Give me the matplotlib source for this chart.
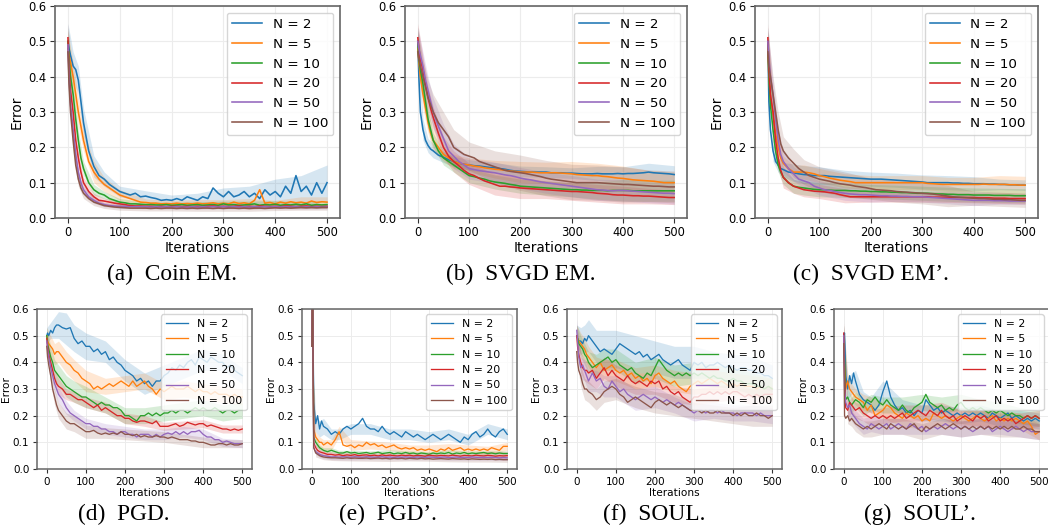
import matplotlib
matplotlib.use("Agg")
import matplotlib.pyplot as plt
import numpy as np

# ---------------- data ----------------
ITER = [0, 2, 5, 10, 15, 20, 25, 30] + list(range(40, 501, 10))
BAND_ITER = [0, 10, 20, 30, 50, 70, 100, 150, 200, 250, 300, 350, 400, 450, 500]
LABELS = ["N = 2", "N = 5", "N = 10", "N = 20", "N = 50", "N = 100"]
COLORS = ["#1f77b4", "#ff7f0e", "#2ca02c", "#d62728", "#9467bd", "#8c564b"]
CAPTIONS = ["(a)  Coin EM.", "(b)  SVGD EM.", "(c)  SVGD EM\u2019.",
            "(d)  PGD.", "(e)  PGD\u2019.", "(f)  SOUL.", "(g)  SOUL\u2019."]
XTICKS = [0, 100, 200, 300, 400, 500]
YTICKS = [0.0, 0.1, 0.2, 0.3, 0.4, 0.5, 0.6]

# (a) Coin EM
a_n2 = [0.50, 0.48, 0.46, 0.43, 0.42, 0.39, 0.33, 0.27,
        0.19, 0.146, 0.12, 0.11, 0.095, 0.085, 0.075, 0.07, 0.065, 0.07,
        0.06, 0.062, 0.058, 0.055, 0.05, 0.052, 0.05, 0.055, 0.05, 0.06,
        0.055, 0.05, 0.06, 0.055, 0.085, 0.07, 0.06, 0.075, 0.06, 0.065,
        0.075, 0.06, 0.07, 0.055, 0.08, 0.065, 0.075, 0.06, 0.09, 0.07,
        0.12, 0.075, 0.09, 0.065, 0.10, 0.07, 0.10]
a_n5 = [0.48, 0.46, 0.44, 0.40, 0.35, 0.30, 0.26, 0.22,
        0.16, 0.13, 0.11, 0.095, 0.085, 0.075, 0.065, 0.06, 0.055, 0.05,
        0.045, 0.044, 0.042, 0.042, 0.04, 0.041, 0.04, 0.042, 0.04, 0.041,
        0.04, 0.042, 0.04, 0.041, 0.043, 0.04, 0.042, 0.04, 0.045, 0.041,
        0.043, 0.04, 0.05, 0.08, 0.042, 0.044, 0.04, 0.045, 0.042, 0.046,
        0.043, 0.045, 0.042, 0.048, 0.044, 0.046, 0.045]
a_n10 = [0.50, 0.45, 0.40, 0.35, 0.28, 0.22, 0.17, 0.14,
         0.10, 0.08, 0.07, 0.065, 0.055, 0.05, 0.045, 0.043, 0.04, 0.04,
         0.039, 0.038, 0.038, 0.037, 0.037, 0.038, 0.036, 0.037, 0.038, 0.036,
         0.037, 0.038, 0.036, 0.037, 0.038, 0.036, 0.04, 0.037, 0.038, 0.036,
         0.037, 0.038, 0.04, 0.036, 0.038, 0.037, 0.039, 0.036, 0.038, 0.037,
         0.039, 0.037, 0.04, 0.036, 0.038, 0.037, 0.038]
a_n20 = [0.51, 0.42, 0.36, 0.30, 0.22, 0.17, 0.13, 0.10,
         0.075, 0.06, 0.05, 0.048, 0.045, 0.042, 0.04, 0.038, 0.035, 0.034,
         0.034, 0.033, 0.033, 0.032, 0.033, 0.032, 0.033, 0.033, 0.032, 0.033,
         0.032, 0.033, 0.032, 0.033, 0.034, 0.032, 0.033, 0.032, 0.033, 0.034,
         0.032, 0.033, 0.032, 0.034, 0.033, 0.032, 0.033, 0.032, 0.034, 0.033,
         0.032, 0.033, 0.034, 0.032, 0.033, 0.032, 0.033]
a_n50 = [0.49, 0.40, 0.32, 0.25, 0.18, 0.13, 0.10, 0.08,
         0.06, 0.05, 0.042, 0.038, 0.035, 0.034, 0.033, 0.033, 0.032, 0.032,
         0.032, 0.032, 0.031, 0.032, 0.031, 0.032, 0.031, 0.032, 0.031, 0.031,
         0.032, 0.031, 0.032, 0.031, 0.032, 0.031, 0.032, 0.031, 0.032, 0.031,
         0.032, 0.031, 0.032, 0.031, 0.032, 0.031, 0.032, 0.031, 0.032, 0.031,
         0.032, 0.031, 0.032, 0.031, 0.032, 0.031, 0.032]
a_n100 = [0.47, 0.38, 0.30, 0.22, 0.15, 0.11, 0.085, 0.07,
          0.055, 0.045, 0.04, 0.035, 0.033, 0.031, 0.03, 0.029, 0.028, 0.028,
          0.028, 0.028, 0.027, 0.028, 0.027, 0.028, 0.028, 0.027, 0.028, 0.027,
          0.028, 0.027, 0.028, 0.028, 0.027, 0.028, 0.027, 0.028, 0.028, 0.027,
          0.028, 0.027, 0.028, 0.028, 0.027, 0.028, 0.029, 0.028, 0.029, 0.028,
          0.029, 0.03, 0.029, 0.03, 0.029, 0.03, 0.03]
a_sd2 = [.05, .04, .04, .04, .03, .02, .015, .015, .015, .02, .025, .03, .035, .045, .05]
a_sd5 = [.05, .04, .04, .03, .03, .02, .015, .01, .01, .01, .01, .015, .01, .015, .015]
a_sd10 = [.04, .03, .03, .02, .015, .01, .01, .008, .008, .008, .008, .01, .01, .01, .01]
a_sd20 = [.04, .03, .02, .015, .01, .008, .008, .006, .006, .006, .006, .006, .006, .006, .006]
a_sd50 = [.05, .03, .02, .01, .008, .006, .006, .006, .006, .006, .006, .006, .006, .006, .006]
a_sd100 = [.05, .03, .02, .015, .01, .008, .008, .008, .008, .008, .008, .008, .008, .008, .008]

# (b) SVGD EM
b_n2 = [0.50, 0.40, 0.30, 0.25, 0.22, 0.205, 0.195, 0.19,
        0.178, 0.172, 0.165, 0.16, 0.155, 0.152, 0.15, 0.148, 0.147, 0.145,
        0.143, 0.142, 0.14, 0.138, 0.135, 0.133, 0.132, 0.131, 0.13, 0.13,
        0.13, 0.13, 0.128, 0.128, 0.128, 0.127, 0.127, 0.126, 0.125, 0.125,
        0.125, 0.126, 0.125, 0.125, 0.125, 0.126, 0.125, 0.126, 0.126, 0.127,
        0.128, 0.13, 0.128, 0.127, 0.126, 0.125, 0.123]
b_n5 = [0.48, 0.44, 0.40, 0.35, 0.31, 0.27, 0.24, 0.22,
        0.20, 0.18, 0.17, 0.16, 0.155, 0.152, 0.15, 0.147, 0.145, 0.142,
        0.14, 0.138, 0.137, 0.135, 0.133, 0.132, 0.13, 0.13, 0.13, 0.129,
        0.128, 0.128, 0.128, 0.128, 0.127, 0.126, 0.125, 0.123, 0.122, 0.121,
        0.12, 0.12, 0.118, 0.117, 0.115, 0.113, 0.112, 0.11, 0.108, 0.107,
        0.106, 0.105, 0.104, 0.102, 0.10, 0.10, 0.10]
b_n10 = [0.50, 0.45, 0.42, 0.38, 0.33, 0.28, 0.25, 0.22,
         0.19, 0.17, 0.16, 0.15, 0.14, 0.13, 0.12, 0.117, 0.113, 0.11,
         0.105, 0.102, 0.10, 0.098, 0.095, 0.093, 0.09, 0.089, 0.088, 0.087,
         0.086, 0.085, 0.084, 0.083, 0.082, 0.081, 0.08, 0.08, 0.079, 0.079,
         0.078, 0.078, 0.078, 0.077, 0.078, 0.078, 0.078, 0.078, 0.077, 0.077,
         0.077, 0.077, 0.077, 0.077, 0.077, 0.077, 0.077]
b_n20 = [0.51, 0.48, 0.45, 0.42, 0.38, 0.34, 0.31, 0.285,
         0.24, 0.20, 0.175, 0.16, 0.148, 0.135, 0.125, 0.12, 0.112, 0.105,
         0.10, 0.095, 0.09, 0.09, 0.088, 0.087, 0.085, 0.084, 0.083, 0.082,
         0.081, 0.08, 0.079, 0.078, 0.077, 0.076, 0.075, 0.075, 0.074, 0.073,
         0.072, 0.07, 0.069, 0.068, 0.066, 0.065, 0.065, 0.064, 0.063, 0.063,
         0.062, 0.062, 0.061, 0.06, 0.059, 0.058, 0.058]
b_n50 = [0.50, 0.48, 0.46, 0.43, 0.39, 0.36, 0.33, 0.30,
         0.26, 0.225, 0.19, 0.175, 0.16, 0.15, 0.14, 0.137, 0.134, 0.132,
         0.13, 0.128, 0.125, 0.122, 0.12, 0.117, 0.113, 0.11, 0.108, 0.105,
         0.102, 0.10, 0.098, 0.096, 0.094, 0.092, 0.09, 0.088, 0.086, 0.084,
         0.082, 0.08, 0.079, 0.078, 0.077, 0.078, 0.078, 0.077, 0.076, 0.075,
         0.074, 0.073, 0.072, 0.071, 0.07, 0.07, 0.069]
b_n100 = [0.47, 0.45, 0.43, 0.40, 0.37, 0.34, 0.32, 0.30,
          0.27, 0.25, 0.23, 0.20, 0.19, 0.18, 0.175, 0.17, 0.16, 0.155,
          0.15, 0.145, 0.14, 0.135, 0.132, 0.13, 0.128, 0.126, 0.123, 0.12,
          0.117, 0.113, 0.11, 0.108, 0.106, 0.104, 0.102, 0.10, 0.10, 0.10,
          0.10, 0.10, 0.099, 0.098, 0.097, 0.096, 0.095, 0.095, 0.094, 0.093,
          0.092, 0.091, 0.09, 0.09, 0.089, 0.088, 0.088]
b_sd2 = [.04, .03, .02, .02, .015, .015, .015, .015, .015, .015, .015, .02, .02, .025, .025]
b_sd5 = [.04, .04, .03, .03, .02, .02, .02, .025, .03, .03, .035, .035, .035, .03, .03]
b_sd10 = [.04, .04, .03, .02, .02, .02, .02, .02, .02, .02, .02, .025, .03, .03, .03]
b_sd20 = [.04, .04, .03, .03, .03, .03, .03, .03, .03, .025, .025, .025, .025, .022, .02]
b_sd50 = [.04, .04, .04, .04, .04, .035, .03, .03, .03, .03, .03, .03, .03, .03, .03]
b_sd100 = [.06, .05, .05, .05, .05, .05, .04, .045, .05, .05, .05, .05, .05, .045, .045]

# (c) SVGD EM'
c_n2 = [0.50, 0.33, 0.25, 0.19, 0.16, 0.15, 0.14, 0.137,
        0.13, 0.128, 0.125, 0.123, 0.122, 0.12, 0.12, 0.12, 0.118, 0.117,
        0.116, 0.115, 0.114, 0.113, 0.112, 0.111, 0.11, 0.11, 0.11, 0.109,
        0.108, 0.107, 0.106, 0.105, 0.104, 0.103, 0.102, 0.10, 0.10, 0.10,
        0.10, 0.10, 0.099, 0.099, 0.098, 0.098, 0.097, 0.097, 0.097, 0.096,
        0.096, 0.095, 0.095, 0.094, 0.094, 0.093, 0.093]
c_n5 = [0.48, 0.40, 0.34, 0.30, 0.24, 0.20, 0.17, 0.155,
        0.14, 0.13, 0.13, 0.13, 0.128, 0.125, 0.12, 0.117, 0.113, 0.11,
        0.107, 0.105, 0.103, 0.10, 0.10, 0.10, 0.10, 0.10, 0.10, 0.10,
        0.10, 0.10, 0.10, 0.10, 0.10, 0.10, 0.10, 0.098, 0.097, 0.096,
        0.095, 0.095, 0.095, 0.095, 0.095, 0.095, 0.095, 0.095, 0.096, 0.095,
        0.095, 0.095, 0.095, 0.094, 0.094, 0.093, 0.093]
c_n10 = [0.50, 0.40, 0.32, 0.25, 0.19, 0.15, 0.13, 0.115,
         0.10, 0.09, 0.087, 0.085, 0.083, 0.081, 0.08, 0.08, 0.079, 0.078,
         0.078, 0.078, 0.077, 0.077, 0.076, 0.076, 0.075, 0.075, 0.074, 0.074,
         0.073, 0.073, 0.072, 0.072, 0.071, 0.07, 0.07, 0.07, 0.069, 0.068,
         0.068, 0.067, 0.067, 0.066, 0.066, 0.066, 0.065, 0.065, 0.065, 0.065,
         0.064, 0.064, 0.064, 0.064, 0.063, 0.063, 0.063]
c_n20 = [0.51, 0.42, 0.35, 0.30, 0.22, 0.17, 0.135, 0.115,
         0.10, 0.09, 0.085, 0.08, 0.078, 0.076, 0.075, 0.074, 0.072, 0.07,
         0.066, 0.063, 0.06, 0.06, 0.06, 0.06, 0.06, 0.06, 0.06, 0.06,
         0.06, 0.06, 0.06, 0.06, 0.06, 0.06, 0.06, 0.06, 0.059, 0.059,
         0.059, 0.059, 0.058, 0.058, 0.058, 0.058, 0.058, 0.057, 0.057, 0.057,
         0.056, 0.056, 0.056, 0.055, 0.055, 0.055, 0.055]
c_n50 = [0.50, 0.45, 0.40, 0.35, 0.28, 0.22, 0.18, 0.16,
         0.14, 0.125, 0.11, 0.105, 0.10, 0.09, 0.085, 0.08, 0.078, 0.075,
         0.072, 0.07, 0.068, 0.067, 0.066, 0.066, 0.065, 0.064, 0.063, 0.063,
         0.062, 0.062, 0.061, 0.061, 0.06, 0.06, 0.06, 0.059, 0.058, 0.057,
         0.056, 0.055, 0.054, 0.053, 0.052, 0.051, 0.05, 0.05, 0.05, 0.05,
         0.049, 0.049, 0.049, 0.048, 0.048, 0.048, 0.048]
c_n100 = [0.47, 0.43, 0.40, 0.35, 0.30, 0.25, 0.21, 0.19,
          0.17, 0.155, 0.14, 0.13, 0.12, 0.115, 0.11, 0.107, 0.104, 0.10,
          0.097, 0.095, 0.093, 0.09, 0.088, 0.086, 0.083, 0.08, 0.079, 0.078,
          0.077, 0.075, 0.074, 0.073, 0.072, 0.071, 0.07, 0.069, 0.068, 0.066,
          0.064, 0.062, 0.06, 0.059, 0.058, 0.057, 0.056, 0.055, 0.055, 0.054,
          0.053, 0.053, 0.052, 0.052, 0.051, 0.05, 0.05]
c_sd2 = [.04, .03, .02, .02, .025, .025, .025, .02, .02, .02, .02, .02, .02, .015, .015]
c_sd5 = [.04, .04, .03, .02, .02, .02, .02, .02, .02, .02, .02, .02, .02, .025, .025]
c_sd10 = [.04, .03, .02, .02, .02, .02, .02, .02, .02, .02, .02, .02, .02, .02, .02]
c_sd20 = [.04, .04, .03, .03, .02, .02, .02, .02, .015, .015, .015, .015, .015, .015, .015]
c_sd50 = [.04, .04, .03, .03, .02, .02, .02, .02, .02, .015, .015, .015, .015, .01, .01]
c_sd100 = [.06, .05, .05, .04, .04, .035, .035, .035, .03, .03, .03, .03, .02, .02, .02]

# (d) PGD
d_n2 = [0.50, 0.51, 0.50, 0.52, 0.51, 0.53, 0.54, 0.54,
        0.53, 0.525, 0.53, 0.49, 0.47, 0.48, 0.46, 0.46, 0.44, 0.45,
        0.43, 0.44, 0.41, 0.42, 0.40, 0.39, 0.37, 0.36, 0.35, 0.33,
        0.34, 0.32, 0.33, 0.31, 0.33, 0.33, 0.35, 0.36, 0.38, 0.37,
        0.39, 0.38, 0.40, 0.41, 0.39, 0.42, 0.41, 0.40, 0.42, 0.41,
        0.40, 0.40, 0.38, 0.39, 0.37, 0.36, 0.35]
d_n5 = [0.50, 0.48, 0.47, 0.46, 0.45, 0.43, 0.44, 0.44,
        0.42, 0.40, 0.39, 0.37, 0.36, 0.34, 0.33, 0.32, 0.30, 0.31,
        0.30, 0.31, 0.32, 0.31, 0.32, 0.33, 0.32, 0.31, 0.33, 0.31,
        0.32, 0.33, 0.31, 0.30, 0.28, 0.30, 0.29, 0.30, 0.31, 0.30,
        0.30, 0.30, 0.31, 0.30, 0.29, 0.30, 0.29, 0.29, 0.28, 0.29,
        0.28, 0.28, 0.28, 0.27, 0.28, 0.27, 0.27]
d_n10 = [0.50, 0.47, 0.45, 0.42, 0.40, 0.37, 0.36, 0.35,
         0.33, 0.31, 0.30, 0.29, 0.28, 0.27, 0.27, 0.26, 0.25, 0.24,
         0.25, 0.24, 0.24, 0.23, 0.23, 0.22, 0.20, 0.20, 0.19, 0.18,
         0.20, 0.20, 0.21, 0.20, 0.21, 0.20, 0.21, 0.21, 0.22, 0.21,
         0.22, 0.22, 0.21, 0.22, 0.23, 0.22, 0.23, 0.22, 0.22, 0.23,
         0.22, 0.21, 0.22, 0.22, 0.21, 0.22, 0.22]
d_n20 = [0.49, 0.46, 0.43, 0.40, 0.37, 0.34, 0.32, 0.31,
         0.30, 0.28, 0.28, 0.27, 0.26, 0.26, 0.25, 0.24, 0.23, 0.24,
         0.22, 0.23, 0.22, 0.21, 0.20, 0.20, 0.19, 0.19, 0.18, 0.175,
         0.18, 0.18, 0.175, 0.17, 0.18, 0.16, 0.16, 0.16, 0.165, 0.17,
         0.16, 0.165, 0.175, 0.17, 0.165, 0.17, 0.17, 0.16, 0.165, 0.16,
         0.155, 0.15, 0.15, 0.145, 0.15, 0.145, 0.15]
d_n50 = [0.48, 0.45, 0.42, 0.38, 0.35, 0.32, 0.30, 0.28,
         0.26, 0.23, 0.21, 0.20, 0.19, 0.18, 0.17, 0.17, 0.16, 0.16,
         0.15, 0.15, 0.14, 0.14, 0.13, 0.14, 0.14, 0.13, 0.13, 0.12,
         0.13, 0.13, 0.13, 0.12, 0.13, 0.12, 0.13, 0.135, 0.13, 0.14,
         0.13, 0.14, 0.13, 0.14, 0.14, 0.145, 0.13, 0.12, 0.12, 0.11,
         0.11, 0.10, 0.105, 0.10, 0.095, 0.095, 0.095]
d_n100 = [0.46, 0.42, 0.39, 0.35, 0.30, 0.27, 0.24, 0.22,
          0.20, 0.18, 0.17, 0.17, 0.16, 0.15, 0.14, 0.14, 0.145, 0.135,
          0.13, 0.135, 0.13, 0.135, 0.13, 0.14, 0.13, 0.13, 0.125, 0.13,
          0.12, 0.125, 0.12, 0.12, 0.125, 0.12, 0.12, 0.115, 0.12, 0.115,
          0.11, 0.11, 0.11, 0.105, 0.105, 0.10, 0.10, 0.095, 0.09, 0.09,
          0.095, 0.095, 0.09, 0.095, 0.09, 0.09, 0.095]
d_sd2 = [.03, .03, .04, .05, .06, .05, .05, .04, .04, .04, .04, .04, .04, .03, .03]
d_sd5 = [.03, .04, .04, .04, .04, .04, .04, .03, .03, .03, .03, .03, .03, .03, .03]
d_sd10 = [.03, .04, .04, .04, .04, .04, .04, .03, .03, .03, .03, .03, .03, .03, .03]
d_sd20 = [.03, .03, .03, .03, .02, .02, .02, .02, .02, .02, .015, .015, .015, .015, .015]
d_sd50 = [.03, .03, .03, .03, .025, .02, .02, .02, .02, .02, .02, .02, .02, .015, .015]
d_sd100 = [.03, .03, .03, .03, .03, .03, .025, .02, .02, .02, .02, .02, .02, .015, .015]

# (e) PGD'
e_n2 = [0.46, 0.70, 0.25, 0.17, 0.20, 0.15, 0.18, 0.16,
        0.15, 0.13, 0.14, 0.13, 0.15, 0.16, 0.15, 0.16, 0.17, 0.19,
        0.16, 0.15, 0.15, 0.14, 0.16, 0.14, 0.13, 0.14, 0.13, 0.12,
        0.14, 0.13, 0.12, 0.13, 0.12, 0.11, 0.12, 0.13, 0.12, 0.11,
        0.12, 0.13, 0.12, 0.11, 0.10, 0.12, 0.11, 0.13, 0.14, 0.12,
        0.13, 0.15, 0.13, 0.12, 0.14, 0.15, 0.13]
e_n5 = [0.46, 0.70, 0.15, 0.12, 0.11, 0.10, 0.10, 0.09,
        0.10, 0.09, 0.11, 0.14, 0.09, 0.085, 0.09, 0.08, 0.09, 0.085,
        0.10, 0.09, 0.095, 0.085, 0.09, 0.08, 0.085, 0.09, 0.08, 0.075,
        0.08, 0.075, 0.08, 0.07, 0.075, 0.07, 0.075, 0.07, 0.065, 0.075,
        0.07, 0.08, 0.07, 0.075, 0.08, 0.07, 0.075, 0.07, 0.075, 0.07,
        0.075, 0.07, 0.08, 0.075, 0.07, 0.085, 0.085]
e_n10 = [0.46, 0.70, 0.12, 0.10, 0.09, 0.08, 0.075, 0.07,
         0.065, 0.07, 0.065, 0.06, 0.06, 0.065, 0.06, 0.062, 0.058, 0.06,
         0.062, 0.058, 0.06, 0.063, 0.058, 0.06, 0.062, 0.057, 0.06, 0.058,
         0.062, 0.058, 0.06, 0.056, 0.06, 0.058, 0.055, 0.06, 0.057, 0.06,
         0.058, 0.062, 0.056, 0.06, 0.058, 0.062, 0.057, 0.06, 0.058, 0.06,
         0.062, 0.058, 0.06, 0.057, 0.06, 0.058, 0.058]
e_n20 = [0.46, 0.70, 0.10, 0.08, 0.07, 0.065, 0.062, 0.06,
         0.055, 0.055, 0.052, 0.054, 0.05, 0.053, 0.051, 0.054, 0.05, 0.052,
         0.053, 0.05, 0.052, 0.049, 0.053, 0.05, 0.052, 0.05, 0.049, 0.052,
         0.05, 0.052, 0.049, 0.051, 0.05, 0.048, 0.052, 0.05, 0.049, 0.051,
         0.05, 0.049, 0.052, 0.05, 0.048, 0.051, 0.05, 0.049, 0.052, 0.05,
         0.049, 0.051, 0.05, 0.048, 0.05, 0.049, 0.05]
e_n50 = [0.46, 0.70, 0.08, 0.065, 0.06, 0.055, 0.052, 0.05,
         0.048, 0.045, 0.046, 0.044, 0.046, 0.045, 0.044, 0.046, 0.045, 0.044,
         0.046, 0.045, 0.044, 0.045, 0.046, 0.044, 0.045, 0.043, 0.045, 0.044,
         0.045, 0.044, 0.043, 0.045, 0.044, 0.043, 0.045, 0.044, 0.043, 0.044,
         0.045, 0.043, 0.044, 0.045, 0.043, 0.044, 0.043, 0.045, 0.044, 0.043,
         0.044, 0.043, 0.044, 0.043, 0.042, 0.043, 0.042]
e_n100 = [0.46, 0.70, 0.08, 0.06, 0.055, 0.05, 0.047, 0.045,
          0.043, 0.042, 0.042, 0.041, 0.04, 0.042, 0.04, 0.041, 0.04, 0.04,
          0.041, 0.039, 0.04, 0.041, 0.039, 0.04, 0.038, 0.04, 0.039, 0.04,
          0.038, 0.04, 0.039, 0.038, 0.04, 0.038, 0.039, 0.037, 0.038, 0.039,
          0.038, 0.037, 0.039, 0.038, 0.037, 0.038, 0.036, 0.038, 0.037, 0.036,
          0.037, 0.036, 0.037, 0.035, 0.036, 0.035, 0.035]
e_sd2 = [.02, .03, .03, .03, .02, .02, .02, .02, .02, .02, .02, .02, .02, .02, .02]
e_sd5 = [.02, .02, .02, .02, .02, .02, .02, .015, .015, .015, .015, .015, .015, .015, .015]
e_sd10 = [.02, .015, .01, .01, .01, .01, .01, .01, .01, .01, .01, .01, .01, .01, .01]
e_sd20 = [.02, .015, .015, .01, .01, .01, .01, .01, .01, .01, .01, .01, .01, .015, .015]
e_sd50 = [.02, .01, .01, .01, .01, .01, .01, .01, .01, .01, .01, .01, .01, .01, .01]
e_sd100 = [.02, .015, .01, .01, .01, .01, .01, .01, .01, .01, .01, .01, .01, .01, .01]

# (f) SOUL
f_n2 = [0.50, 0.49, 0.48, 0.48, 0.47, 0.49, 0.48, 0.50,
        0.48, 0.46, 0.44, 0.45, 0.44, 0.43, 0.45, 0.47, 0.46, 0.45,
        0.44, 0.43, 0.44, 0.42, 0.43, 0.41, 0.42, 0.43, 0.41, 0.40,
        0.39, 0.40, 0.41, 0.39, 0.38, 0.37, 0.40, 0.39, 0.40, 0.38,
        0.39, 0.39, 0.40, 0.39, 0.38, 0.39, 0.38, 0.37, 0.38, 0.38,
        0.37, 0.37, 0.36, 0.36, 0.35, 0.35, 0.34]
f_n5 = [0.50, 0.49, 0.48, 0.47, 0.46, 0.45, 0.43, 0.42,
        0.40, 0.38, 0.40, 0.37, 0.38, 0.39, 0.37, 0.36, 0.37, 0.35,
        0.36, 0.34, 0.35, 0.33, 0.34, 0.32, 0.35, 0.36, 0.34, 0.33,
        0.32, 0.33, 0.31, 0.30, 0.29, 0.31, 0.32, 0.33, 0.32, 0.33,
        0.34, 0.33, 0.32, 0.33, 0.32, 0.31, 0.32, 0.31, 0.32, 0.31,
        0.31, 0.31, 0.30, 0.31, 0.30, 0.31, 0.30]
f_n10 = [0.50, 0.49, 0.47, 0.46, 0.45, 0.43, 0.42, 0.40,
         0.38, 0.39, 0.40, 0.41, 0.42, 0.40, 0.41, 0.39, 0.38, 0.37,
         0.38, 0.36, 0.35, 0.34, 0.36, 0.35, 0.38, 0.41, 0.39, 0.37,
         0.36, 0.35, 0.36, 0.35, 0.36, 0.35, 0.36, 0.35, 0.36, 0.35,
         0.34, 0.35, 0.34, 0.34, 0.33, 0.33, 0.34, 0.33, 0.33, 0.32,
         0.32, 0.32, 0.31, 0.31, 0.30, 0.31, 0.30]
f_n20 = [0.50, 0.46, 0.43, 0.40, 0.38, 0.37, 0.37, 0.36,
         0.37, 0.34, 0.36, 0.38, 0.35, 0.37, 0.35, 0.34, 0.33, 0.35,
         0.33, 0.32, 0.33, 0.32, 0.31, 0.33, 0.32, 0.33, 0.30, 0.31,
         0.29, 0.28, 0.29, 0.27, 0.26, 0.25, 0.27, 0.27, 0.28, 0.28,
         0.29, 0.28, 0.29, 0.28, 0.29, 0.28, 0.29, 0.29, 0.28, 0.27,
         0.28, 0.27, 0.28, 0.27, 0.28, 0.28, 0.28]
f_n50 = [0.52, 0.48, 0.42, 0.38, 0.39, 0.37, 0.35, 0.33,
         0.36, 0.33, 0.34, 0.31, 0.30, 0.33, 0.31, 0.29, 0.30, 0.28,
         0.27, 0.26, 0.27, 0.28, 0.27, 0.26, 0.27, 0.26, 0.25, 0.26,
         0.25, 0.24, 0.25, 0.24, 0.23, 0.22, 0.21, 0.22, 0.22, 0.21,
         0.22, 0.22, 0.21, 0.22, 0.21, 0.21, 0.21, 0.20, 0.21, 0.21,
         0.21, 0.21, 0.20, 0.21, 0.20, 0.20, 0.20]
f_n100 = [0.44, 0.40, 0.37, 0.35, 0.32, 0.30, 0.30, 0.29,
          0.28, 0.26, 0.27, 0.29, 0.30, 0.31, 0.30, 0.28, 0.27, 0.25,
          0.26, 0.27, 0.26, 0.25, 0.24, 0.23, 0.25, 0.26, 0.25, 0.24,
          0.25, 0.24, 0.23, 0.24, 0.23, 0.22, 0.22, 0.22, 0.21, 0.22,
          0.21, 0.21, 0.22, 0.21, 0.21, 0.21, 0.20, 0.21, 0.20, 0.21,
          0.20, 0.20, 0.21, 0.20, 0.20, 0.19, 0.20]
f_sd2 = [.04, .05, .05, .06, .06, .07, .07, .07, .06, .06, .06, .05, .05, .05, .05]
f_sd5 = [.04, .04, .04, .04, .04, .04, .04, .04, .04, .04, .04, .04, .04, .04, .04]
f_sd10 = [.04, .04, .04, .04, .04, .04, .04, .04, .04, .04, .04, .04, .04, .04, .04]
f_sd20 = [.04, .04, .04, .04, .04, .04, .04, .04, .04, .03, .03, .03, .03, .03, .03]
f_sd50 = [.04, .04, .04, .04, .04, .04, .04, .04, .04, .03, .03, .03, .03, .03, .03]
f_sd100 = [.04, .04, .04, .04, .04, .04, .04, .04, .04, .04, .03, .03, .03, .04, .04]

# (g) SOUL'
g_n2 = [0.50, 0.51, 0.35, 0.30, 0.35, 0.32, 0.36, 0.33,
        0.28, 0.26, 0.25, 0.24, 0.22, 0.24, 0.29, 0.33, 0.27, 0.24,
        0.22, 0.23, 0.21, 0.22, 0.20, 0.22, 0.21, 0.26, 0.24, 0.22,
        0.23, 0.21, 0.22, 0.21, 0.20, 0.21, 0.20, 0.21, 0.20, 0.21,
        0.20, 0.21, 0.20, 0.19, 0.21, 0.20, 0.19, 0.20, 0.21, 0.19,
        0.20, 0.19, 0.18, 0.19, 0.18, 0.19, 0.18]
g_n5 = [0.50, 0.40, 0.30, 0.33, 0.30, 0.29, 0.28, 0.27,
        0.26, 0.25, 0.22, 0.24, 0.20, 0.21, 0.22, 0.24, 0.23, 0.21,
        0.20, 0.19, 0.21, 0.20, 0.19, 0.20, 0.18, 0.19, 0.18, 0.21,
        0.20, 0.19, 0.20, 0.19, 0.18, 0.19, 0.20, 0.19, 0.18, 0.19,
        0.20, 0.19, 0.18, 0.19, 0.20, 0.18, 0.19, 0.18, 0.19, 0.18,
        0.19, 0.18, 0.17, 0.18, 0.16, 0.13, 0.14]
g_n10 = [0.50, 0.40, 0.26, 0.27, 0.25, 0.24, 0.25, 0.26,
         0.25, 0.23, 0.26, 0.25, 0.27, 0.25, 0.24, 0.26, 0.24, 0.23,
         0.22, 0.24, 0.22, 0.21, 0.23, 0.24, 0.25, 0.28, 0.25, 0.24,
         0.23, 0.24, 0.22, 0.23, 0.22, 0.24, 0.25, 0.23, 0.22, 0.23,
         0.22, 0.23, 0.22, 0.21, 0.22, 0.21, 0.22, 0.21, 0.20, 0.21,
         0.20, 0.20, 0.19, 0.20, 0.19, 0.20, 0.19]
g_n20 = [0.51, 0.35, 0.23, 0.22, 0.25, 0.24, 0.23, 0.22,
         0.23, 0.21, 0.20, 0.19, 0.20, 0.19, 0.20, 0.19, 0.20, 0.19,
         0.20, 0.21, 0.19, 0.20, 0.21, 0.22, 0.21, 0.20, 0.22, 0.21,
         0.20, 0.22, 0.20, 0.19, 0.20, 0.18, 0.19, 0.20, 0.19, 0.18,
         0.20, 0.19, 0.20, 0.18, 0.19, 0.20, 0.18, 0.19, 0.18, 0.19,
         0.17, 0.18, 0.19, 0.20, 0.19, 0.20, 0.19]
g_n50 = [0.50, 0.30, 0.25, 0.23, 0.24, 0.21, 0.20, 0.19,
         0.17, 0.16, 0.15, 0.17, 0.16, 0.15, 0.16, 0.17, 0.15, 0.16,
         0.17, 0.16, 0.15, 0.17, 0.16, 0.15, 0.16, 0.14, 0.15, 0.16,
         0.15, 0.16, 0.17, 0.16, 0.15, 0.16, 0.15, 0.16, 0.15, 0.14,
         0.15, 0.16, 0.15, 0.16, 0.14, 0.15, 0.16, 0.15, 0.14, 0.15,
         0.16, 0.15, 0.14, 0.15, 0.14, 0.14, 0.14]
g_n100 = [0.47, 0.20, 0.19, 0.20, 0.18, 0.19, 0.18, 0.17,
          0.16, 0.15, 0.16, 0.15, 0.16, 0.17, 0.16, 0.15, 0.17, 0.16,
          0.15, 0.16, 0.15, 0.16, 0.17, 0.15, 0.14, 0.16, 0.15, 0.16,
          0.17, 0.16, 0.15, 0.16, 0.17, 0.16, 0.15, 0.16, 0.15, 0.16,
          0.15, 0.16, 0.15, 0.16, 0.15, 0.16, 0.15, 0.16, 0.15, 0.16,
          0.15, 0.15, 0.16, 0.15, 0.15, 0.14, 0.14]
g_sd2 = [.04, .04, .04, .04, .03, .03, .04, .03, .03, .03, .03, .03, .03, .03, .03]
g_sd5 = [.04, .03, .03, .03, .03, .03, .03, .03, .03, .03, .03, .03, .03, .03, .03]
g_sd10 = [.04, .03, .03, .03, .03, .03, .03, .03, .03, .03, .03, .03, .03, .03, .03]
g_sd20 = [.04, .03, .03, .03, .03, .03, .03, .03, .03, .03, .03, .03, .03, .03, .03]
g_sd50 = [.04, .03, .03, .03, .03, .03, .03, .03, .03, .03, .03, .03, .03, .03, .03]
g_sd100 = [.04, .03, .03, .03, .03, .03, .03, .03, .03, .03, .03, .03, .03, .03, .03]

PANEL_MEANS = [
    [a_n2, a_n5, a_n10, a_n20, a_n50, a_n100],
    [b_n2, b_n5, b_n10, b_n20, b_n50, b_n100],
    [c_n2, c_n5, c_n10, c_n20, c_n50, c_n100],
    [d_n2, d_n5, d_n10, d_n20, d_n50, d_n100],
    [e_n2, e_n5, e_n10, e_n20, e_n50, e_n100],
    [f_n2, f_n5, f_n10, f_n20, f_n50, f_n100],
    [g_n2, g_n5, g_n10, g_n20, g_n50, g_n100],
]
PANEL_SDS = [
    [a_sd2, a_sd5, a_sd10, a_sd20, a_sd50, a_sd100],
    [b_sd2, b_sd5, b_sd10, b_sd20, b_sd50, b_sd100],
    [c_sd2, c_sd5, c_sd10, c_sd20, c_sd50, c_sd100],
    [d_sd2, d_sd5, d_sd10, d_sd20, d_sd50, d_sd100],
    [e_sd2, e_sd5, e_sd10, e_sd20, e_sd50, e_sd100],
    [f_sd2, f_sd5, f_sd10, f_sd20, f_sd50, f_sd100],
    [g_sd2, g_sd5, g_sd10, g_sd20, g_sd50, g_sd100],
]

# ---------------- layout (pixel boxes: left, right, top, bottom) ----------------
W, H = 1048, 531
BOXES = [(55, 340, 6, 218), (405, 687, 6, 218), (755, 1038, 6, 218),
         (37, 252, 309, 469), (302, 517, 309, 469), (567, 782, 309, 469),
         (834, 1049, 309, 469)]
CAP_POS = [(172, 274), (521, 274), (871, 274),
           (124, 514), (388, 514), (654, 514), (920, 514)]

STYLE_TOP = dict(tick=8.3, label=9.8, legend=9.7, lspace=0.5, hlen=2.2,
                 lw=1.15, ticklen=3.5, spine=1.2, gridlw=0.8, ypad=3.5)
STYLE_BOT = dict(tick=7.5, label=7.6, legend=7.8, lspace=0.5, hlen=2.1,
                 lw=0.95, ticklen=3.0, spine=1.1, gridlw=0.7, ypad=1.5)

fig = plt.figure(figsize=(W / 100, H / 100), dpi=100)
fig.patch.set_facecolor("white")

band_idx = [ITER.index(b) for b in BAND_ITER]

for p in range(7):
    st = STYLE_TOP if p < 3 else STYLE_BOT
    l, r, t, b = BOXES[p]
    ax = fig.add_axes([l / W, 1 - b / H, (r - l) / W, (b - t) / H])
    ax.set_facecolor("white")
    for k in range(6):
        m = np.asarray(PANEL_MEANS[p][k], dtype=float)
        sd = np.asarray(PANEL_SDS[p][k], dtype=float)
        if len(m) != len(ITER) or len(sd) != len(BAND_ITER):
            raise ValueError(f"length mismatch panel {p} series {k}: {len(m)} {len(sd)}")
        mb = m[band_idx]
        ax.fill_between(BAND_ITER, mb - sd, mb + sd, color=COLORS[k], alpha=0.18, lw=0)
        ax.plot(ITER, m, color=COLORS[k], lw=st["lw"], label=LABELS[k])
    ax.set_xlim(-25, 525)
    ax.set_ylim(0, 0.6)
    ax.set_xticks(XTICKS)
    ax.set_yticks(YTICKS)
    ax.set_yticklabels([f"{v:.1f}" for v in YTICKS])
    ax.grid(True, color="#ececec", lw=st["gridlw"])
    ax.set_axisbelow(True)
    for sp in ax.spines.values():
        sp.set_color("#666666")
        sp.set_linewidth(st["spine"])
    ax.tick_params(labelsize=st["tick"], length=st["ticklen"], width=0.8,
                   color="#333333", pad=2.5)
    ax.set_xlabel("Iterations", fontsize=st["label"], labelpad=1.0)
    ax.set_ylabel("Error", fontsize=st["label"], labelpad=st["ypad"])
    leg = ax.legend(loc="upper right", fontsize=st["legend"], handlelength=st["hlen"],
                    framealpha=0.8, borderaxespad=0.5, labelspacing=st["lspace"])
    leg.get_frame().set_edgecolor("#cccccc")
    cx, cy = CAP_POS[p]
    fig.text(cx / W, 1 - cy / H, CAPTIONS[p], ha="center", va="center",
             family="Liberation Serif", fontsize=16.8)

fig.savefig("out.png", dpi=100, facecolor="white")
